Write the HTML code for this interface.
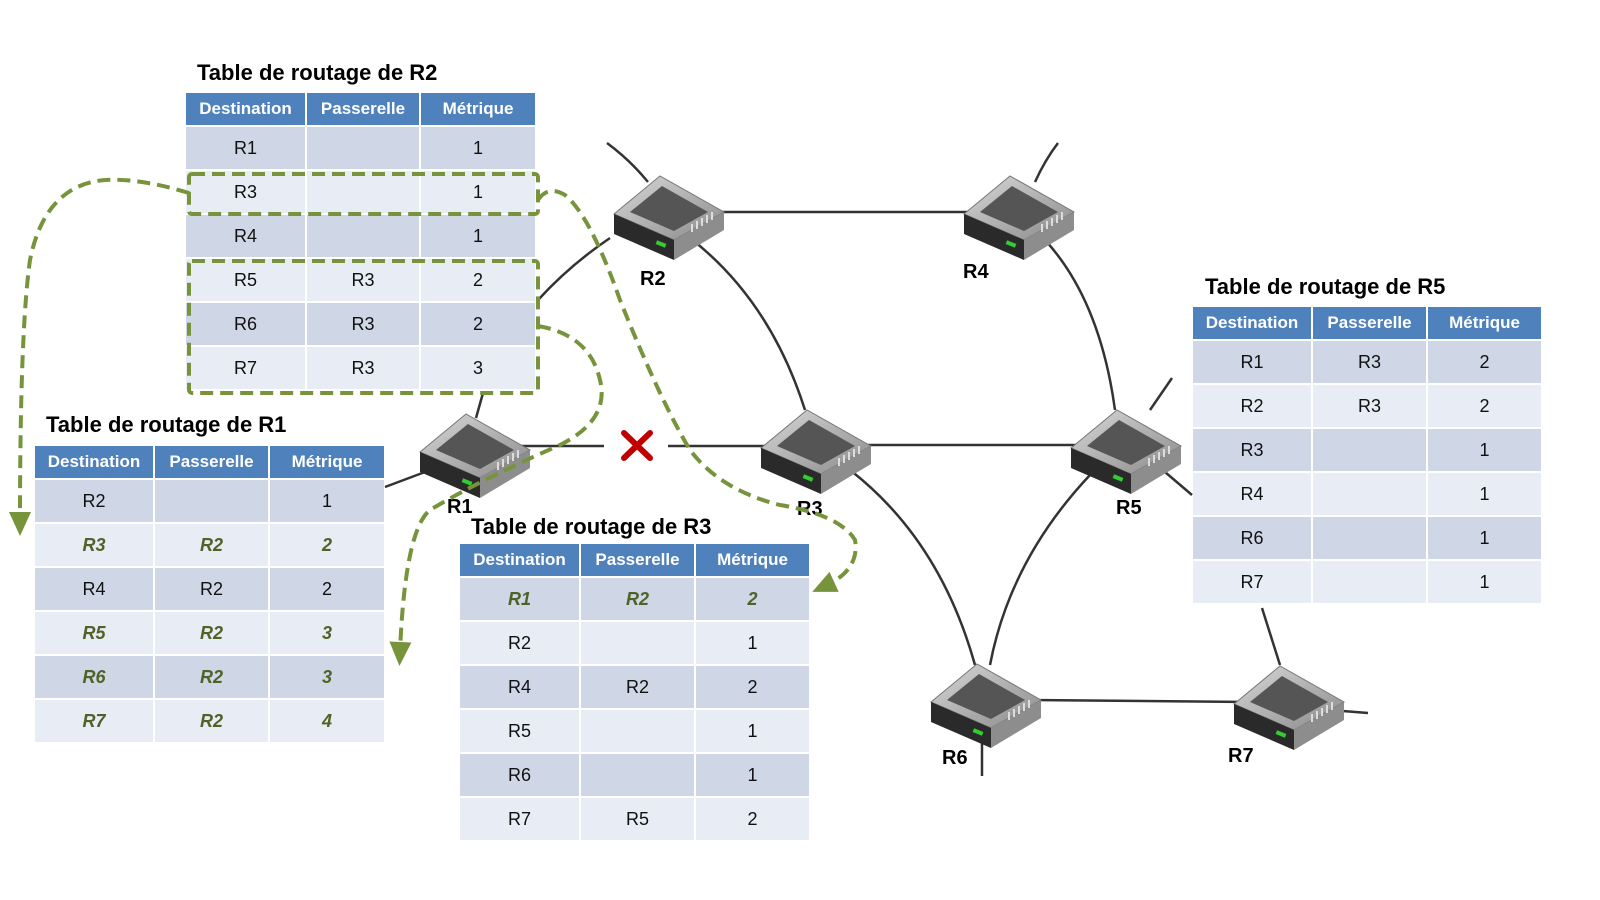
<!DOCTYPE html>
<html><head><meta charset="utf-8"><style>
body{margin:0;width:1600px;height:900px;background:#fff;position:relative;overflow:hidden;font-family:"Liberation Sans",sans-serif}
.t{position:absolute;border-collapse:separate;border-spacing:2px;font-size:18px;color:#111}
.t td{text-align:center;padding:0}
.t tr.h td{background:#4f81bd;color:#fff;font-weight:bold;font-size:17px;height:32px}
.t tr.d td{background:#cfd7e6;height:42px}
.t tr.l td{background:#e8ecf4;height:42px}
.g{color:#4f6228;font-style:italic;font-weight:bold}
.ti{position:absolute;font-weight:bold;font-size:22px;color:#000}
.lb{position:absolute;font-weight:bold;font-size:20px;color:#000}
svg{position:absolute;left:0;top:0}
</style></head><body>
<svg width="1600" height="900">
<defs>
<linearGradient id="tg" x1="0" y1="0" x2="1" y2="1"><stop offset="0" stop-color="#d8d8d8"/><stop offset="1" stop-color="#8a8a8a"/></linearGradient>
<g id="rt">
<polygon points="-54,-2 -8,-40 56,-4 6,24" fill="url(#tg)" stroke="#777" stroke-width="1"/>
<polygon points="-38,-4 -6,-30 40,-4 6,15" fill="#555"/>
<polygon points="-54,-2 6,24 6,44 -54,18" fill="#2a2a2a"/>
<polygon points="6,24 56,-4 56,14 6,44" fill="#8d8d8d"/>
<rect x="-12" y="26" width="10" height="4" fill="#3c3" transform="rotate(22 -7 28)"/>
<g stroke="#ddd" stroke-width="2"><line x1="24" y1="16" x2="24" y2="8"/><line x1="29" y1="13" x2="29" y2="5"/><line x1="34" y1="10" x2="34" y2="2"/><line x1="39" y1="7" x2="39" y2="-1"/><line x1="44" y1="4" x2="44" y2="-4"/></g>
</g>
<marker id="ar" markerWidth="26" markerHeight="26" refX="12" refY="13" orient="auto" markerUnits="userSpaceOnUse"><path d="M2,2 L26,13 L2,24 z" fill="#77933c"/></marker>
</defs>
<g stroke="#333" stroke-width="2.5" fill="none">
<line x1="720" y1="212" x2="1000" y2="212"/>
<path d="M690,238 Q770,300 805,410"/>
<path d="M607,143 Q630,160 648,182"/>
<path d="M1058,143 Q1045,160 1035,182"/>
<path d="M1045,240 Q1100,300 1115,410"/>
<line x1="520" y1="446" x2="604" y2="446"/>
<line x1="668" y1="446" x2="780" y2="446"/>
<line x1="860" y1="445" x2="1090" y2="445"/>
<path d="M850,470 Q940,540 975,665"/>
<path d="M1090,475 Q1010,560 990,665"/>
<path d="M1262,608 Q1272,640 1280,665"/>
<line x1="1030" y1="700" x2="1250" y2="702"/>
<line x1="982" y1="735" x2="982" y2="776"/>
<line x1="1330" y1="710" x2="1368" y2="713"/>
<line x1="1150" y1="410" x2="1172" y2="378"/>
<line x1="1165" y1="472" x2="1192" y2="495"/>
<line x1="483" y1="393" x2="476" y2="418"/>
<path d="M538,300 Q570,265 610,238"/>
<line x1="425" y1="472" x2="385" y2="487"/>
</g>
<use href="#rt" x="668" y="216"/>
<use href="#rt" x="1018" y="216"/>
<use href="#rt" x="474" y="454"/>
<use href="#rt" x="815" y="450"/>
<use href="#rt" x="1125" y="450"/>
<use href="#rt" x="985" y="704"/>
<use href="#rt" x="1288" y="706"/>
<g stroke="#c00000" stroke-width="6" stroke-linecap="round"><line x1="624" y1="433" x2="650" y2="458"/><line x1="650" y1="433" x2="624" y2="458"/></g>
</svg>
<div class="ti" style="left:197px;top:60px">Table de routage de R2</div>
<table class="t" style="left:184px;top:91px;width:353px">
<tr class="h"><td style="width:119px">Destination</td><td style="width:112px">Passerelle</td><td>Métrique</td></tr>
<tr class="d"><td>R1</td><td></td><td>1</td></tr>
<tr class="l"><td>R3</td><td></td><td>1</td></tr>
<tr class="d"><td>R4</td><td></td><td>1</td></tr>
<tr class="l"><td>R5</td><td>R3</td><td>2</td></tr>
<tr class="d"><td>R6</td><td>R3</td><td>2</td></tr>
<tr class="l"><td>R7</td><td>R3</td><td>3</td></tr>
</table>
<div class="ti" style="left:46px;top:412px">Table de routage de R1</div>
<table class="t" style="left:33px;top:444px;width:353px">
<tr class="h"><td style="width:118px">Destination</td><td style="width:113px">Passerelle</td><td>Métrique</td></tr>
<tr class="d"><td>R2</td><td></td><td>1</td></tr>
<tr class="l g"><td>R3</td><td>R2</td><td>2</td></tr>
<tr class="d"><td>R4</td><td>R2</td><td>2</td></tr>
<tr class="l g"><td>R5</td><td>R2</td><td>3</td></tr>
<tr class="d g"><td>R6</td><td>R2</td><td>3</td></tr>
<tr class="l g"><td>R7</td><td>R2</td><td>4</td></tr>
</table>
<div class="ti" style="left:471px;top:514px">Table de routage de R3</div>
<table class="t" style="left:458px;top:542px;width:353px">
<tr class="h"><td style="width:119px">Destination</td><td style="width:113px">Passerelle</td><td>Métrique</td></tr>
<tr class="d g"><td>R1</td><td>R2</td><td>2</td></tr>
<tr class="l"><td>R2</td><td></td><td>1</td></tr>
<tr class="d"><td>R4</td><td>R2</td><td>2</td></tr>
<tr class="l"><td>R5</td><td></td><td>1</td></tr>
<tr class="d"><td>R6</td><td></td><td>1</td></tr>
<tr class="l"><td>R7</td><td>R5</td><td>2</td></tr>
</table>
<div class="ti" style="left:1205px;top:274px">Table de routage de R5</div>
<table class="t" style="left:1191px;top:305px;width:352px">
<tr class="h"><td style="width:118px">Destination</td><td style="width:113px">Passerelle</td><td>Métrique</td></tr>
<tr class="d"><td>R1</td><td>R3</td><td>2</td></tr>
<tr class="l"><td>R2</td><td>R3</td><td>2</td></tr>
<tr class="d"><td>R3</td><td></td><td>1</td></tr>
<tr class="l"><td>R4</td><td></td><td>1</td></tr>
<tr class="d"><td>R6</td><td></td><td>1</td></tr>
<tr class="l"><td>R7</td><td></td><td>1</td></tr>
</table>
<div class="lb" style="left:640px;top:268px">R2</div>
<div class="lb" style="left:963px;top:261px">R4</div>
<div class="lb" style="left:447px;top:496px">R1</div>
<div class="lb" style="left:797px;top:498px">R3</div>
<div class="lb" style="left:1116px;top:497px">R5</div>
<div class="lb" style="left:942px;top:747px">R6</div>
<div class="lb" style="left:1228px;top:745px">R7</div>
<svg width="1600" height="900" style="pointer-events:none">
<g stroke="#77933c" stroke-width="4" fill="none" stroke-dasharray="13,7">
<rect x="189" y="174" width="349" height="40" rx="3"/>
<rect x="189" y="261" width="349" height="132" rx="3"/>
<path d="M189,193 Q140,178 105,180 Q45,185 30,260 Q20,330 20,522" marker-end="url(#ar)"/>
<path d="M538,326 Q590,335 600,380 Q610,420 560,445 Q480,480 430,510 Q405,530 400,652" marker-end="url(#ar)"/>
<path d="M538,200 Q548,185 565,195 Q590,215 620,300 Q660,400 690,450 Q720,490 780,505 Q840,515 855,540 Q860,570 825,586" marker-end="url(#ar)"/>
</g>
</svg>
</body></html>
